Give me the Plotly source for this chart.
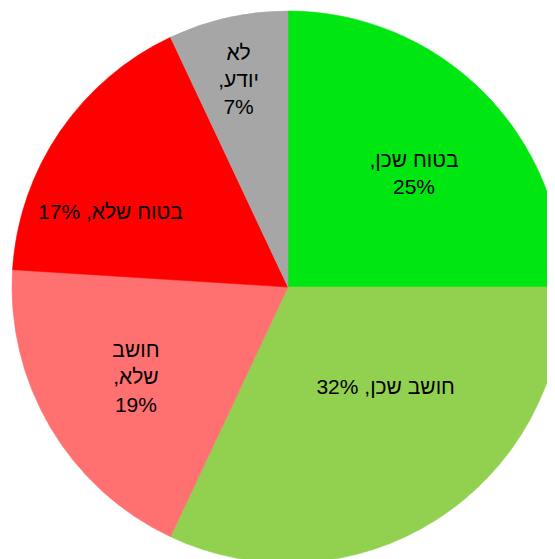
import plotly.graph_objects as go

labels = ["בטוח שכן", "חושב שכן", "חושב שלא", "בטוח שלא", "לא יודע"]
values = [25, 32, 19, 17, 7]
text_lines = ["בטוח שכן,<br>25%", "חושב שכן, 32%<br> <br> ", "חושב<br>שלא,<br>19%", " <br> <br>בטוח שלא, 17%", " <br>לא<br>יודע,<br>7%"]
pad_left = [4, 6, 0, 0, 0]
pad_right = [0, 0, 0, 9, 0]
colors = ["#00E610", "#92D050", "#FF7171", "#FF0000", "#A6A6A6"]

RLE, PDF, NB = "\u202b", "\u202c", "\u00a0"
texts = [
    "<br>".join(NB * pl + RLE + part + PDF + NB * pr for part in t.split("<br>"))
    for t, pl, pr in zip(text_lines, pad_left, pad_right)
]

W, H = 576, 576
fig = go.Figure(go.Pie(
    labels=labels,
    values=values,
    text=texts,
    textinfo="text",
    textposition="inside",
    insidetextorientation="horizontal",
    sort=False,
    direction="clockwise",
    rotation=0,
    marker=dict(colors=colors, line=dict(width=0.6, color=colors)),
    textfont=dict(family="Liberation Sans, Arial", size=21, color="black"),
    domain=dict(x=[4 / W, 556 / W], y=[21 / H, 573 / H]),
    showlegend=False,
    hoverinfo="label+percent",
))
fig.update_layout(
    width=W, height=H,
    margin=dict(l=0, r=0, t=0, b=0),
    paper_bgcolor="white",
    plot_bgcolor="white",
    uniformtext=dict(minsize=21, mode="show"),
)
fig.write_html("out.html")
